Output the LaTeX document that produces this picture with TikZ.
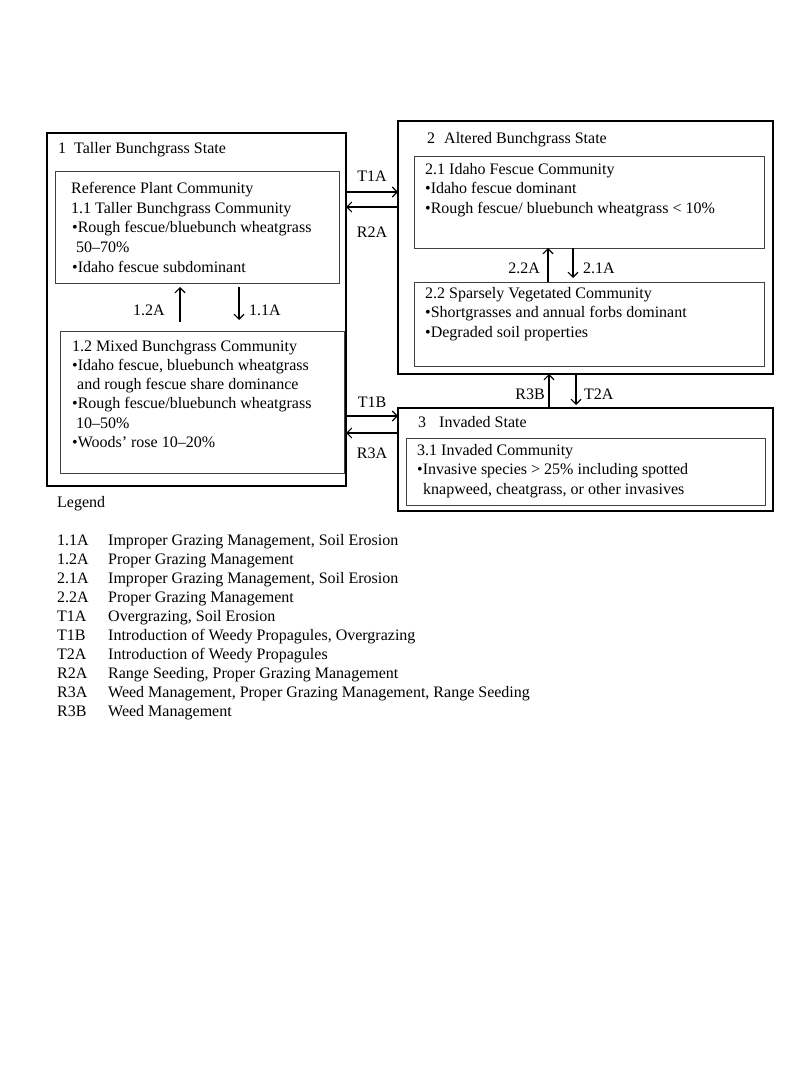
\documentclass[tikz,border=0pt]{standalone}
\usepackage{fontspec}
\setmainfont{Liberation Serif}
\usetikzlibrary{arrows.meta}
\begin{document}
\begin{tikzpicture}[x=1pt,y=-1pt,
  txt/.style={anchor=base west, inner sep=0pt, font=\fontsize{16}{19}\selectfont},
  lbl/.style={inner sep=0pt, font=\fontsize{16}{19}\selectfont},
  statebox/.style={draw=black, line width=2.2pt, anchor=north west, inner sep=0pt, outer sep=0pt},
  commbox/.style={draw=black!75, line width=1pt, anchor=north west, inner sep=0pt, outer sep=0pt},
  arr/.style={line width=1.1pt, -{Straight Barb[length=5pt,width=10pt]}}
]
\path[use as bounding box, fill=white] (0,0) rectangle (800,1067);

\newcommand\mkbox[6]{\node[#2, minimum width={(#5-#3)*1pt}, minimum height={(#6-#4)*1pt}] (#1) at (#3,#4) {};}

% state boxes
\mkbox{s1}{statebox}{47}{133}{346}{486}
\mkbox{s2}{statebox}{398}{121}{773}{374}
\mkbox{s3}{statebox}{398}{408}{773}{511}
% community boxes
\mkbox{b11}{commbox}{55}{172}{339}{283}
\mkbox{b12}{commbox}{60}{331}{344}{473}
\mkbox{b21}{commbox}{414}{157}{764}{248}
\mkbox{b22}{commbox}{414}{282}{764}{366}
\mkbox{b31}{commbox}{406}{438}{765}{505}

% titles
\node[txt] (t1) at (58,154) {1\hspace{8pt}Taller Bunchgrass State};
\node[txt] (t2) at (427,144) {2\hspace{9pt}Altered Bunchgrass State};
\node[txt] (t3) at (418,427) {3\hspace{13pt}Invaded State};

% 1.1
\node[txt] (b11a) at (71,194) {Reference Plant Community};
\node[txt] (b11b) at (71,213.5) {1.1 Taller Bunchgrass Community};
\node[txt] (b11c) at (72,233) {•Rough fescue/bluebunch wheatgrass};
\node[txt] (b11d) at (76,252.5) {50–70\%};
\node[txt] (b11e) at (72,272) {•Idaho fescue subdominant};
% 1.2
\node[txt] (b12a) at (72,351) {1.2 Mixed Bunchgrass Community};
\node[txt] (b12b) at (72,370.3) {•Idaho fescue, bluebunch wheatgrass};
\node[txt] (b12c) at (77,389.6) {and rough fescue share dominance};
\node[txt] (b12d) at (72,408.9) {•Rough fescue/bluebunch wheatgrass};
\node[txt] (b12e) at (76,428.2) {10–50\%};
\node[txt] (b12f) at (72,447.5) {•Woods’ rose 10–20\%};
% 2.1
\node[txt] (b21a) at (425,174.5) {2.1 Idaho Fescue Community};
\node[txt] (b21b) at (425,194) {•Idaho fescue dominant};
\node[txt] (b21c) at (425,213.5) {•Rough fescue/ bluebunch wheatgrass < 10\%};
% 2.2
\node[txt] (b22a) at (425,298) {2.2 Sparsely Vegetated Community};
\node[txt] (b22b) at (425,317.5) {•Shortgrasses and annual forbs dominant};
\node[txt] (b22c) at (425,337) {•Degraded soil properties};
% 3.1
\node[txt] (b31a) at (417,455) {3.1 Invaded Community};
\node[txt] (b31b) at (417,474.5) {•Invasive species > 25\% including spotted};
\node[txt] (b31c) at (423,494) {knapweed, cheatgrass, or other invasives};

% connector reference coordinates
\coordinate (yT1A) at (0,192);
\coordinate (yR2A) at (0,207);
\coordinate (yT1B) at (0,416);
\coordinate (yR3A) at (0,433);
\coordinate (x12A) at (180,0);
\coordinate (x11A) at (239,0);
\coordinate (x22A) at (548,0);
\coordinate (x21A) at (573,0);
\coordinate (xR3B) at (549,0);
\coordinate (xT2A) at (576,0);

% horizontal transitions
\draw[arr] (s1.east |- yT1A) -- (s2.west |- yT1A);
\draw[arr] (s2.west |- yR2A) -- (s1.east |- yR2A);
\draw[arr] (s1.east |- yT1B) -- (s3.west |- yT1B);
\draw[arr] (s3.west |- yR3A) -- (s1.east |- yR3A);
% vertical pathways
\draw[arr, shorten <=9pt, shorten >=4pt] (b12.north -| x12A) -- (b11.south -| x12A);
\draw[arr, shorten <=4pt, shorten >=11pt] (b11.south -| x11A) -- (b12.north -| x11A);
\draw[arr] (b22.north -| x22A) -- (b21.south -| x22A);
\draw[arr, shorten >=4pt] (b21.south -| x21A) -- (b22.north -| x21A);
\draw[arr, shorten <=1pt] (s3.north -| xR3B) -- (s2.south -| xR3B);
\draw[arr, shorten <=1pt, shorten >=3pt] (s2.south -| xT2A) -- (s3.north -| xT2A);

% arrow labels
\node[lbl, anchor=base] (lT1A) at (372,182) {T1A};
\node[lbl, anchor=base] (lR2A) at (372,238) {R2A};
\node[lbl, anchor=base] (lT1B) at (372,407) {T1B};
\node[lbl, anchor=base] (lR3A) at (372,458) {R3A};
\node[lbl, anchor=base east] (l12A) at (165,315) {1.2A};
\node[lbl, anchor=base west] (l11A) at (249,315) {1.1A};
\node[lbl, anchor=base east] (l22A) at (540,273) {2.2A};
\node[lbl, anchor=base west] (l21A) at (583,273) {2.1A};
\node[lbl, anchor=base east] (lR3B) at (545,399) {R3B};
\node[lbl, anchor=base west] (lT2A) at (584,399) {T2A};

% legend
\node[txt] (legend) at (57,507) {Legend};
\foreach \c/\d [count=\i from 0] in {
  1.1A/{Improper Grazing Management, Soil Erosion},
  1.2A/{Proper Grazing Management},
  2.1A/{Improper Grazing Management, Soil Erosion},
  2.2A/{Proper Grazing Management},
  T1A/{Overgrazing, Soil Erosion},
  T1B/{Introduction of Weedy Propagules, Overgrazing},
  T2A/{Introduction of Weedy Propagules},
  R2A/{Range Seeding, Proper Grazing Management},
  R3A/{Weed Management, Proper Grazing Management, Range Seeding},
  R3B/{Weed Management}}
{
  \node[txt] (lc\i) at (57,545+19.1*\i) {\c};
  \node[txt] (ld\i) at (108,545+19.1*\i) {\d};
}
\end{tikzpicture}
\end{document}
